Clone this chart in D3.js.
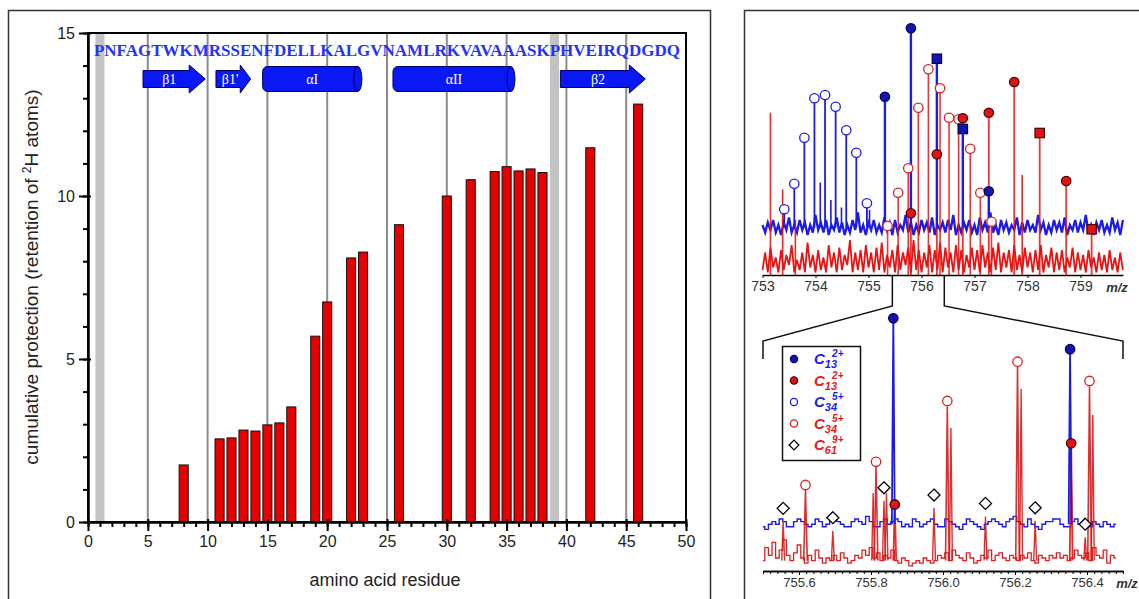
<!DOCTYPE html>
<html>
<head>
<meta charset="utf-8">
<script src="https://cdn.jsdelivr.net/npm/d3@7"></script>
<style>
  body { margin: 0; background: #fff; }
  svg { display: block; font-family: "Liberation Sans", Arial, sans-serif; }
</style>
</head>
<body>
<svg id="fig" width="1139" height="599"></svg>
<script>
// ---- left panel: protection per residue ----
const sequence = "PNFAGTWKMRSSENFDELLKALGVNAMLRKVAVAAASKPHVEIRQDGDQ";
const residues = [8, 11, 12, 13, 14, 15, 16, 17, 19, 20, 22, 23, 26, 30, 32, 34, 35, 36, 37, 38, 42, 46];
const protection = [1.75, 2.55, 2.58, 2.82, 2.79, 2.98, 3.04, 3.53, 5.7, 6.75, 8.1, 8.28, 9.12, 10.0, 10.5, 10.75, 10.9, 10.77, 10.83, 10.72, 11.48, 12.82];
const prolines = [1, 39];
const gridResidues = [5, 10, 15, 20, 25, 30, 35, 40, 45];
const xTicks = [0, 5, 10, 15, 20, 25, 30, 35, 40, 45, 50];
const yTicks = [0, 5, 10, 15];
const ssLabels = ["β1", "β1'", "αI", "αII", "β2"];
const ssTypes = ["strand", "strand", "helix", "helix", "strand"];
const ssStart = [4.6, 10.7, 14.6, 25.5, 39.5];
const ssEnd = [9.8, 13.6, 22.9, 35.7, 46.6];

// ---- right panel, top spectrum (753-760) ----
const topTicks = [753, 754, 755, 756, 757, 758, 759];
const blueBaseTop = 19;
const blueNoiseTop = [
  1,-2,2,-1,3,-2,1,-3,2,-1,4,-2,1,-2,3,-1,2,-3,1,-2,
  5,-1,2,-2,3,-3,1,-1,4,-2,2,-3,1,-2,3,-1,6,-2,1,-3,
  2,-1,3,-2,1,-2,4,-1,2,-3,3,-2,1,-1,5,-2,2,-3,1,-2,
  3,-1,2,-2,4,-3,1,-1,2,-2,3,-1,5,-3,1,-2,2,-1,3,-2,
  1,-3,4,-1,2,-2,6,-2,1,-3,3,-1,2,-2,1,-1,4,-3,2,-2,
  3,-1,1,-2,5,-1,2,-3,1,-2,3,-1,2,-2,4,-3,1,-1,3,-2,
  2,-1,5,-2,1,-3,2,-1,3,-2,1,-2,4,-1,2,-3,3];
const redNoiseTop = [
  2,9,1,11,3,7,1,10,2,8,4,12,1,6,2,9,1,13,3,8,
  1,10,2,7,1,12,3,9,1,11,2,8,4,14,1,9,2,10,1,12,
  3,9,1,11,2,13,1,8,3,10,1,12,2,9,4,11,1,14,2,10,
  1,9,3,12,1,10,2,13,1,11,3,9,1,12,2,10,1,8,3,11,
  2,10,1,12,3,9,1,11,2,13,1,9,3,10,1,12,2,8,1,11,
  3,9,1,10,2,12,1,8,3,11,1,9,2,10,1,7,3,11,1,9,
  2,8,1,10,3,7,1,9,2,8,1,10,2,7,1,9,2];
const topBlueOpenMz = [753.41, 753.60, 753.79, 753.98, 754.18, 754.38, 754.58, 754.77, 754.97];
const topBlueOpenVal = [26.3, 36.5, 54.9, 70.7, 72.0, 67.3, 57.9, 48.9, 28.7];
const topBlueFilledMz = [755.31, 755.80, 756.29, 756.78, 757.27];
const topBlueFilledVal = [71.3, 98.7, 86.5, 58.4, 33.5];
const topBlueFilledShape = ["circle", "circle", "square", "square", "circle"];
const topRedOpenMz = [755.36, 755.56, 755.75, 755.94, 756.13, 756.35, 756.52, 756.70, 756.92, 757.11, 757.32];
const topRedOpenVal = [19.6, 32.9, 42.7, 66.9, 82.3, 74.7, 62.9, 62.3, 50.5, 32.9, 21.3];
const topRedFilledMz = [755.80, 756.29, 756.78, 757.27, 757.75, 758.23, 758.73, 759.21];
const topRedFilledVal = [24.7, 48.3, 62.7, 64.9, 77.2, 56.8, 37.6, 18.3];
const topRedFilledShape = ["circle", "circle", "circle", "circle", "circle", "square", "circle", "square"];
const topRedExtraMz = [753.15, 753.38, 753.62, 757.90];
const topRedExtraVal = [64.9, 34.3, 22, 40];
const topBlueExtraMz = [754.09, 754.29, 754.49, 755.02];
const topBlueExtraVal = [37, 30, 27, 26];

// ---- right panel, bottom spectrum (755.5-756.5) ----
const botTicks = [755.6, 755.8, 756.0, 756.2, 756.4];
const blueBaseBot = 18;
const blueNoiseBot = [
  -1,-2,0,1,0,2,1,-1,-1,1, 2,1,0,-1,0,2,1,-1,0,2, 2,1,0,-1,-1,1,2,1,0,3,
  1,-1,-1,1,2,0,1,2,1,-1, 0,-1,2,1,-1,0,1,2,0,-1, -1,2,1,0,-1,-2,0,2,1,0,
  -1,-2,0,1,2,1,0,-1,1,2, 3,1,0,-1,2,0,-1,-2,0,1, 1,2,2,0,-1,-1,1,2,0,1,
  0,-1,1,0,-1,1,0,-1,0];
const redNoiseBot = [
  4,9,6,11,5,8,12,6,4,7, 10,5,3,6,4,8,5,3,5,4, 6,4,7,5,3,4,6,5,8,6,
  9,5,7,4,6,5,8,4,3,5, 4,2,3,4,3,5,4,3,4,6, 5,7,4,8,6,5,4,7,5,3,
  4,6,5,8,4,6,7,5,4,6, 5,4,6,5,7,4,3,6,5,4, 6,5,7,5,6,4,5,8,6,5,
  7,4,9,6,5,8,3,6,5];
const botBlueMz = [755.862, 756.353];
const botBlueVal = [97.2, 85.3];
const botRedFilledMz = [755.866, 756.356];
const botRedFilledVal = [25.6, 49.1];
const botRedOpenMz = [755.618, 755.814, 756.012, 756.207, 756.407];
const botRedOpenVal = [33.1, 42.0, 65.4, 80.5, 73.1];
const botRedExtraMz = [755.806, 755.843, 756.022, 756.217, 756.416];
const botRedExtraVal = [30, 30, 55, 70, 60];
const botDiamondMz = [755.556, 755.694, 755.836, 755.975, 756.118, 756.256, 756.395];
const botDiamondVal = [24.1, 20.5, 32.0, 29.2, 26.0, 24.3, 18.0];

const legendColors = ["#1a1aee", "#e81818", "#1a1aee", "#e81818", "#e81818"];
const legendSub = ["13", "13", "34", "34", "61"];
const legendSup = ["2+", "2+", "5+", "5+", "9+"];
const legendMarks = ["blueFilled", "redFilled", "blueOpen", "redOpen", "diamond"];

const BLUE = "#1c1ce6", RED = "#ec1212";
const svg = d3.select("#fig");

// panel frames
svg.append("rect").attr("x", 8.5).attr("y", 10.5).attr("width", 702).attr("height", 620)
  .attr("fill", "none").attr("stroke", "#333").attr("stroke-width", 1.5);
svg.append("rect").attr("x", 744.5).attr("y", 10.5).attr("width", 420).attr("height", 620)
  .attr("fill", "none").attr("stroke", "#333").attr("stroke-width", 1.5);

// ================= left panel =================
const x = d3.scaleLinear().domain([0, 50]).range([88, 686]);
const y = d3.scaleLinear().domain([0, 15]).range([522, 33]);
const leftG = svg.append("g");

leftG.selectAll(".pro").data(prolines).enter().append("rect")
  .attr("x", (d) => x(d - 0.38)).attr("width", x(0.76) - x(0))
  .attr("y", y(15)).attr("height", y(0) - y(15)).attr("fill", "#c3c3c3");

leftG.selectAll(".grid").data(gridResidues).enter().append("line")
  .attr("x1", (d) => x(d)).attr("x2", (d) => x(d))
  .attr("y1", y(15)).attr("y2", y(0))
  .attr("stroke", "#8c8c8c").attr("stroke-width", 2);

leftG.selectAll(".bar").data(residues).enter().append("rect")
  .attr("x", (d) => x(d - 0.38)).attr("width", x(0.76) - x(0))
  .attr("y", (d, i) => y(protection[i]))
  .attr("height", (d, i) => y(0) - y(protection[i]))
  .attr("fill", "#e60000").attr("stroke", "#111").attr("stroke-width", 1);

// sequence, stretched so that residue i sits over x(i)
leftG.append("text")
  .attr("x", x(0.5)).attr("y", 56)
  .attr("textLength", x(sequence.length + 0.5) - x(0.5))
  .attr("lengthAdjust", "spacingAndGlyphs")
  .style("font-family", "'Liberation Serif', 'DejaVu Serif', serif")
  .style("font-size", "16px").style("font-weight", "bold")
  .attr("fill", "#2233ff").text(sequence);

// secondary structure
const ssY = 79;
ssLabels.forEach((lab, i) => {
  const x0 = x(ssStart[i]), x1 = x(ssEnd[i]);
  if (ssTypes[i] === "strand") {
    const head = Math.min(16, (x1 - x0) * 0.3);
    const pts = [[x0, ssY - 8.5], [x1 - head, ssY - 8.5], [x1 - head, ssY - 14], [x1, ssY],
      [x1 - head, ssY + 14], [x1 - head, ssY + 8.5], [x0, ssY + 8.5]];
    leftG.append("path").attr("d", d3.line()(pts) + "Z")
      .attr("fill", "#0a18f5").attr("stroke", "#000060").attr("stroke-width", 1);
    leftG.append("text").attr("x", (x0 + x1 - head * 0.6) / 2).attr("y", ssY + 5)
      .attr("text-anchor", "middle")
      .style("font-family", "'Liberation Serif', 'DejaVu Serif', serif").style("font-size", "14px")
      .attr("fill", "#fff").text(lab);
  } else {
    const h = 12.5;
    leftG.append("path")
      .attr("d", `M${x0 + 5},${ssY - h} L${x1 - 4},${ssY - h} A4,${h} 0 0 1 ${x1 - 4},${ssY + h} L${x0 + 5},${ssY + h} A5,5 0 0 1 ${x0},${ssY + h - 5} L${x0},${ssY - h + 5} A5,5 0 0 1 ${x0 + 5},${ssY - h} Z`)
      .attr("fill", "#0a18f5").attr("stroke", "#000060").attr("stroke-width", 1);
    leftG.append("path")
      .attr("d", `M${x1 - 4},${ssY - h} A4,${h} 0 0 0 ${x1 - 4},${ssY + h}`)
      .attr("fill", "none").attr("stroke", "#000060").attr("stroke-width", 1);
    leftG.append("text").attr("x", (x0 + x1) / 2).attr("y", ssY + 5)
      .attr("text-anchor", "middle")
      .style("font-family", "'Liberation Serif', 'DejaVu Serif', serif").style("font-size", "14px")
      .attr("fill", "#fff").text(lab);
  }
});

// frame + axes
leftG.append("rect").attr("x", x(0)).attr("y", y(15))
  .attr("width", x(50) - x(0)).attr("height", y(0) - y(15))
  .attr("fill", "none").attr("stroke", "#000").attr("stroke-width", 2);

const xMinor = leftG.append("g").attr("transform", `translate(0,${y(0)})`)
  .call(d3.axisBottom(x).ticks(50).tickSize(5).tickSizeOuter(0).tickFormat(""));
const xMajor = leftG.append("g").attr("transform", `translate(0,${y(0)})`)
  .call(d3.axisBottom(x).tickValues(xTicks).tickSize(9).tickSizeOuter(0).tickPadding(5));
const yMinor = leftG.append("g").attr("transform", `translate(${x(0)},0)`)
  .call(d3.axisLeft(y).ticks(15).tickSize(5).tickSizeOuter(0).tickFormat(""));
const yMajor = leftG.append("g").attr("transform", `translate(${x(0)},0)`)
  .call(d3.axisLeft(y).tickValues(yTicks).tickSize(9).tickSizeOuter(0).tickPadding(4));
[xMinor, xMajor, yMinor, yMajor].forEach((g) => {
  g.select(".domain").attr("stroke-width", 2);
  g.selectAll(".tick line").attr("stroke-width", 2).attr("stroke", "#000");
  g.selectAll(".tick text").style("font-size", "16px").attr("fill", "#222")
    .style("font-family", "'Liberation Sans', Arial, sans-serif");
});
xMajor.selectAll(".tick line").attr("y1", -3);
yMajor.selectAll(".tick line").attr("x1", 3);

leftG.append("text").attr("x", 385).attr("y", 586).attr("text-anchor", "middle")
  .style("font-size", "18px").attr("fill", "#222").text("amino acid residue");
const yt = leftG.append("text").attr("transform", "translate(38,277) rotate(-90)")
  .attr("text-anchor", "middle").style("font-size", "19px").attr("fill", "#222");
yt.append("tspan").text("cumulative protection (retention of ");
yt.append("tspan").attr("dy", -7).style("font-size", "12px").text("2");
yt.append("tspan").attr("dy", 7).text("H atoms)");

// ================= right panel =================
const rightG = svg.append("g");

function marker(g, cx, cy, kind, shape, r) {
  r = r || 4.7;
  const col = kind.startsWith("blue") ? BLUE : (kind === "diamond" ? "#000" : "#d82222");
  const fill = kind === "blueFilled" ? "#1414b4" : kind === "redFilled" ? "#e01414" : "#fff";
  const stroke = kind === "blueFilled" ? "#000050" : kind === "redFilled" ? "#4a0000" : col;
  if (kind === "diamond") {
    const s = r + 1.3;
    g.append("path").attr("d", `M${cx},${cy - s} L${cx + s},${cy} L${cx},${cy + s} L${cx - s},${cy} Z`)
      .attr("fill", "#fff").attr("stroke", "#000").attr("stroke-width", 1.3);
  } else if (shape === "square") {
    g.append("rect").attr("x", cx - r).attr("y", cy - r).attr("width", 2 * r).attr("height", 2 * r)
      .attr("fill", fill).attr("stroke", stroke).attr("stroke-width", 1.2);
  } else {
    g.append("circle").attr("cx", cx).attr("cy", cy).attr("r", r)
      .attr("fill", fill).attr("stroke", stroke).attr("stroke-width", 1.3);
  }
}

// ---- top spectrum ----
const xTop = d3.scaleLinear().domain([753, 759.8]).range([762.5, 1122.9]);
const yTop = d3.scaleLinear().domain([0, 100]).range([275, 25]);
const topG = rightG.append("g");
const zigLine = (xs, ys) => d3.line().x((d) => xs(d[0])).y((d) => ys(d[1]));
const stepLine = (xs, ys) => d3.line().x((d) => xs(d[0])).y((d) => ys(d[1])).curve(d3.curveStep);

topG.append("path")
  .attr("d", zigLine(xTop, yTop)(redNoiseTop.map((v, i) => [753 + i * 0.05, v])))
  .attr("fill", "none").attr("stroke", RED).attr("stroke-width", 1.8);
topG.append("path")
  .attr("d", zigLine(xTop, yTop)(blueNoiseTop.map((v, i) => [753 + i * 0.05, blueBaseTop + v])))
  .attr("fill", "none").attr("stroke", BLUE).attr("stroke-width", 2.3);

function sticks(g, xs, ys, mz, val, base, color, w, op) {
  g.selectAll(null).data(mz).enter().append("line")
    .attr("x1", (d) => xs(d)).attr("x2", (d) => xs(d))
    .attr("y1", ys(base)).attr("y2", (d, i) => ys(val[i]))
    .attr("stroke", color).attr("stroke-width", w).attr("opacity", op);
}
sticks(topG, xTop, yTop, topRedExtraMz, topRedExtraVal, 0, RED, 1.6, 0.9);
sticks(topG, xTop, yTop, topRedOpenMz, topRedOpenVal, 0, RED, 1.6, 0.85);
sticks(topG, xTop, yTop, topRedFilledMz, topRedFilledVal, 0, RED, 1.8, 0.85);
sticks(topG, xTop, yTop, topBlueExtraMz, topBlueExtraVal, blueBaseTop, BLUE, 1.6, 1);
sticks(topG, xTop, yTop, topBlueOpenMz, topBlueOpenVal, blueBaseTop, BLUE, 1.8, 1);
sticks(topG, xTop, yTop, topBlueFilledMz, topBlueFilledVal, blueBaseTop, BLUE, 2.4, 1);

topBlueOpenMz.forEach((m, i) => marker(topG, xTop(m), yTop(topBlueOpenVal[i]), "blueOpen"));
topRedOpenMz.forEach((m, i) => marker(topG, xTop(m), yTop(topRedOpenVal[i]), "redOpen"));
topRedFilledMz.forEach((m, i) => marker(topG, xTop(m), yTop(topRedFilledVal[i]), "redFilled", topRedFilledShape[i]));
topBlueFilledMz.forEach((m, i) => marker(topG, xTop(m), yTop(topBlueFilledVal[i]), "blueFilled", topBlueFilledShape[i]));

const topAxis = topG.append("g").attr("transform", `translate(0,${yTop(0)})`)
  .call(d3.axisBottom(xTop).tickValues(topTicks).tickSize(3).tickSizeOuter(0).tickFormat(d3.format("d")));
topAxis.select(".domain").attr("stroke-width", 1.5);
topAxis.selectAll(".tick text").style("font-size", "14px").attr("fill", "#333")
  .style("font-family", "'Liberation Sans', Arial, sans-serif");
topG.append("text").attr("x", 1117).attr("y", 292).attr("text-anchor", "middle")
  .style("font-size", "13px").style("font-style", "italic").style("font-weight", "bold")
  .attr("fill", "#333").text("m/z");

// ---- bottom spectrum ----
const xBot = d3.scaleLinear().domain([755.5, 756.5]).range([763, 1123]);
const yBot = d3.scaleLinear().domain([0, 100]).range([571, 311]);
const botG = rightG.append("g");

// zoom connector
[[755.45, 755.5], [756.43, 756.5]].forEach(([a, b]) => {
  botG.append("path")
    .attr("d", d3.line()([[xTop(a), 276], [xTop(a), 306], [xBot(b), 341], [xBot(b), 359]]))
    .attr("fill", "none").attr("stroke", "#111").attr("stroke-width", 1.5);
});

botG.append("path")
  .attr("d", stepLine(xBot, yBot)(redNoiseBot.map((v, i) => [755.5 + i * 0.01, v])))
  .attr("fill", "none").attr("stroke", "#e02020").attr("stroke-width", 1.3);
botG.append("path")
  .attr("d", stepLine(xBot, yBot)(blueNoiseBot.map((v, i) => [755.5 + i * 0.01, blueBaseBot + v])))
  .attr("fill", "none").attr("stroke", BLUE).attr("stroke-width", 1.4);

function spikes(g, mz, val, base, color, hw, w, op) {
  g.selectAll(null).data(mz).enter().append("path")
    .attr("d", (d, i) => d3.line()([[xBot(d - hw), yBot(base)], [xBot(d), yBot(val[i])], [xBot(d + hw), yBot(base)]]))
    .attr("fill", "none").attr("stroke", color).attr("stroke-width", w).attr("opacity", op);
}
spikes(botG, botDiamondMz, botDiamondVal.map((v) => v - 5), 4, "#d81a1a", 0.004, 1.4, 0.9);
spikes(botG, botRedExtraMz, botRedExtraVal, 4, "#d81a1a", 0.004, 1.4, 0.9);
spikes(botG, botRedOpenMz, botRedOpenVal.map((v) => v - 2), 4, "#d81a1a", 0.005, 1.6, 0.9);
spikes(botG, botRedFilledMz, botRedFilledVal, 4, RED, 0.004, 1.8, 0.9);
spikes(botG, botBlueMz, botBlueVal, blueBaseBot, BLUE, 0.004, 1.8, 1);

botDiamondMz.forEach((m, i) => marker(botG, xBot(m), yBot(botDiamondVal[i]), "diamond"));
botRedOpenMz.forEach((m, i) => marker(botG, xBot(m), yBot(botRedOpenVal[i]), "redOpen"));
botRedFilledMz.forEach((m, i) => marker(botG, xBot(m), yBot(botRedFilledVal[i]), "redFilled"));
botBlueMz.forEach((m, i) => marker(botG, xBot(m), yBot(botBlueVal[i]), "blueFilled"));

const botMinor = botG.append("g").attr("transform", `translate(0,${yBot(0)})`)
  .call(d3.axisBottom(xBot).ticks(40).tickSize(3).tickSizeOuter(0).tickFormat(""));
const botAxis = botG.append("g").attr("transform", `translate(0,${yBot(0)})`)
  .call(d3.axisBottom(xBot).tickValues(botTicks).tickSize(4).tickSizeOuter(0).tickFormat(d3.format(".1f")));
[botMinor, botAxis].forEach((g) => g.select(".domain").attr("stroke-width", 1.5));
botAxis.selectAll(".tick text").style("font-size", "13px").attr("fill", "#333")
  .style("font-family", "'Liberation Sans', Arial, sans-serif");
botG.append("text").attr("x", 1127).attr("y", 588).attr("text-anchor", "middle")
  .style("font-size", "13px").style("font-style", "italic").style("font-weight", "bold")
  .attr("fill", "#333").text("m/z");

// legend
const leg = botG.append("g");
leg.append("rect").attr("x", 782.5).attr("y", 346.5).attr("width", 78).attr("height", 114)
  .attr("fill", "#fff").attr("stroke", "#111").attr("stroke-width", 1.5);
legendMarks.forEach((k, i) => {
  const ly = 359 + i * 21.5;
  marker(leg, 794, ly, k, "circle", 3.6);
  const t = leg.append("text").attr("x", 814).attr("y", ly + 5)
    .style("font-style", "italic").style("font-weight", "bold").style("font-size", "15px")
    .attr("fill", legendColors[i]);
  t.append("tspan").text("C");
  t.append("tspan").attr("dy", 4).style("font-size", "11px").text(legendSub[i]);
  t.append("tspan").attr("dx", -5).attr("dy", -11).style("font-size", "10px").text(legendSup[i]);
});
</script>
</body>
</html>
